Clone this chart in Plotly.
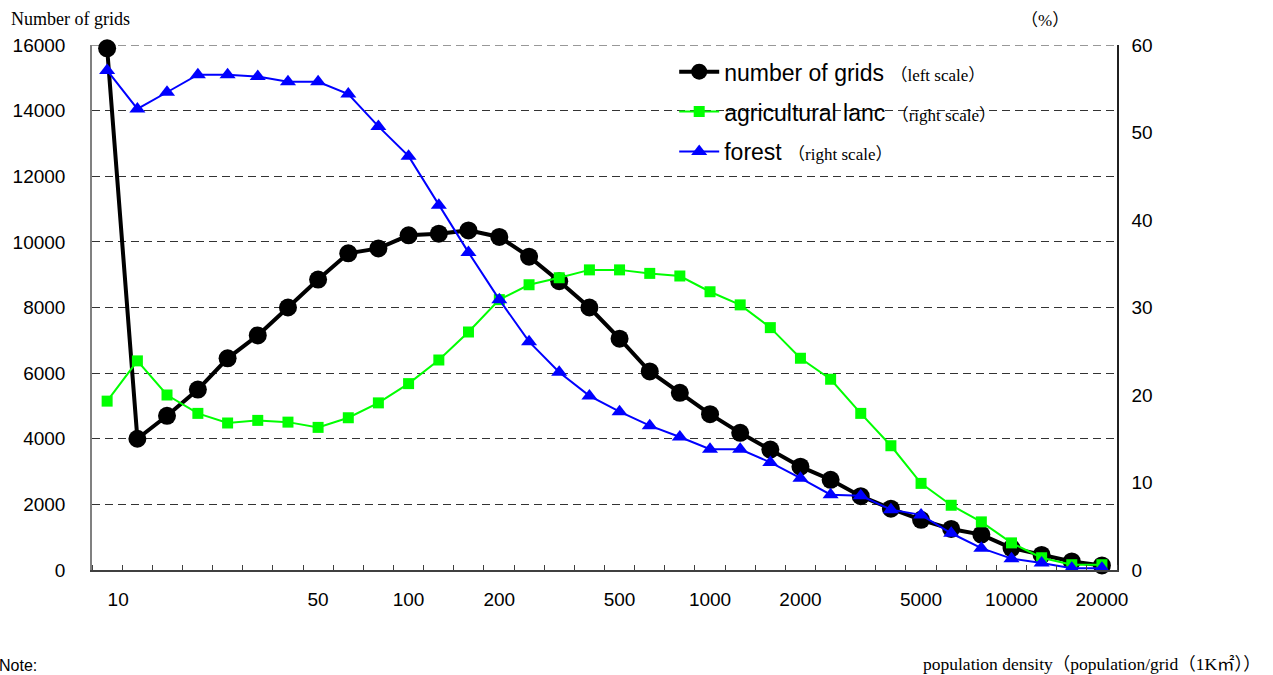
import math
import plotly.graph_objects as go

# population density classes (category values, log-spaced bins)
categories = [10, 12.6, 15.8, 20, 25.1, 31.6, 39.8, 50.1, 63.1, 79.4,
              100, 126, 158, 200, 251, 316, 398, 501, 631, 794,
              1000, 1259, 1585, 1995, 2512, 3162, 3981, 5012, 6310, 7943,
              10000, 12589, 15849, 19953]

number_of_grids = [15900, 4000, 4700, 5500, 6450, 7150, 8000, 8850, 9650, 9800,
                   10200, 10250, 10350, 10150, 9550, 8800, 8000, 7050, 6050, 5400,
                   4750, 4180, 3670, 3150, 2750, 2250, 1870, 1530, 1250, 1080,
                   670, 460, 260, 140]

agricultural_land = [19.3, 23.9, 20.0, 17.9, 16.8, 17.1, 16.9, 16.3, 17.4, 19.1,
                     21.3, 24.0, 27.2, 30.9, 32.6, 33.4, 34.3, 34.3, 33.9, 33.6,
                     31.8, 30.3, 27.7, 24.2, 21.8, 17.9, 14.2, 9.9, 7.4, 5.5,
                     3.1, 1.4, 0.6, 0.6]

forest = [57.1, 52.7, 54.6, 56.6, 56.6, 56.4, 55.8, 55.8, 54.4, 50.7,
          47.3, 41.7, 36.3, 30.9, 26.1, 22.6, 19.9, 18.1, 16.5, 15.2,
          13.8, 13.8, 12.3, 10.5, 8.6, 8.5, 6.9, 6.3, 4.2, 2.5,
          1.3, 0.8, 0.2, 0.2]

x_tick_labels = ["10", "50", "100", "200", "500", "1000", "2000", "5000", "10000", "20000"]
x_tick_vals = [10.88, 50.1, 100, 200, 501, 1000, 1995, 5012, 10000, 19953]

left_ticks = [0, 2000, 4000, 6000, 8000, 10000, 12000, 14000, 16000]
left_tick_labels = ["0", "2000", "4000", "6000", "8000", "10000", "12000", "14000", "16000"]
right_ticks = [0, 10, 20, 30, 40, 50, 60]
right_tick_labels = ["0", "10", "20", "30", "40", "50", "60"]

SERIF = "Liberation Serif, Noto Sans CJK JP, serif"
SANS = "Liberation Sans, Arial, sans-serif"

def scale_note(txt):
    return ('<span style="font-family:Liberation Serif, Noto Sans CJK JP;font-size:17px">'
            + txt + '</span>')

# category boundaries for the small tick marks
lc = [math.log10(c) for c in categories]
bounds = [10 ** (lc[0] - (lc[1] - lc[0]) / 2)]
for i in range(len(lc) - 1):
    bounds.append(10 ** ((lc[i] + lc[i + 1]) / 2))
bounds.append(10 ** (lc[-1] + (lc[-1] - lc[-2]) / 2))

fig = go.Figure()
fig.add_trace(go.Scatter(
    x=categories, y=number_of_grids, yaxis="y", mode="lines+markers",
    name="number of grids " + scale_note("（left scale）"),
    line=dict(color="black", width=4),
    marker=dict(symbol="circle", size=18, color="black"),
    legendgroup="a", cliponaxis=False))
fig.add_trace(go.Scatter(
    x=categories, y=agricultural_land, yaxis="y2", mode="lines+markers",
    name="agricultural lanc " + scale_note("（right scale）"),
    line=dict(color="#00ff00", width=2),
    marker=dict(symbol="square", size=11, color="#00ff00"),
    legendgroup="b", cliponaxis=False))
fig.add_trace(go.Scatter(
    x=categories, y=forest, yaxis="y2", mode="lines+markers",
    name="forest " + scale_note("（right scale）"),
    line=dict(color="#0000ff", width=2),
    marker=dict(symbol="triangle-up", size=14, color="#0000ff"),
    legendgroup="c", cliponaxis=False))

fig.update_layout(
    width=1273, height=675, autosize=False,
    margin=dict(l=92, r=156, t=45, b=105),
    paper_bgcolor="white", plot_bgcolor="white",
    font=dict(family=SANS, size=19, color="black"),
    xaxis=dict(
        type="log",
        range=[math.log10(bounds[0]), math.log10(bounds[-1])],
        tickmode="array", tickvals=x_tick_vals, ticktext=x_tick_labels,
        ticks="", showgrid=False, zeroline=False,
        showline=True, linecolor="#404040", linewidth=1.5,
        ticklabelstandoff=11,
        tickfont=dict(family=SANS, size=19, color="black"),
        minor=dict(tickmode="array", tickvals=bounds, ticks="inside",
                   ticklen=5, tickcolor="#404040", tickwidth=1, showgrid=False),
    ),
    yaxis=dict(
        range=[0, 16000], tickmode="array", tickvals=left_ticks,
        ticktext=left_tick_labels,
        showgrid=True, gridcolor="#333333", gridwidth=1, griddash="8px,5px",
        zeroline=False, showline=True, linecolor="#808080", linewidth=1.5,
        ticks="", ticklabelstandoff=21,
        tickfont=dict(family=SANS, size=19, color="black"),
    ),
    yaxis2=dict(
        range=[0, 60], tickmode="array", tickvals=right_ticks,
        ticktext=right_tick_labels,
        overlaying="y", side="right", showgrid=False, zeroline=False,
        showline=True, linecolor="#202020", linewidth=1.5,
        ticks="", ticklabelstandoff=9,
        tickfont=dict(family=SANS, size=19, color="black"),
    ),
    shapes=[
        dict(type="line", xref="paper", yref="y", x0=0, x1=1,
             y0=left_ticks[-1], y1=left_ticks[-1], layer="below",
             line=dict(color="#333333", width=1, dash="8px,5px")),
    ],
    showlegend=True,
    legend=dict(
        x=0.568, y=0.99, xanchor="left", yanchor="top",
        bgcolor="rgba(0,0,0,0)", borderwidth=0,
        font=dict(family=SANS, size=23, color="black"),
        tracegroupgap=7, itemwidth=40,
    ),
    annotations=[
        dict(text="Number of grids", xref="paper", yref="paper",
             x=-0.0810, y=1.0, xanchor="left", yanchor="bottom", yshift=14,
             showarrow=False, font=dict(family=SERIF, size=18, color="black")),
        dict(text="（%）", xref="paper", yref="paper",
             x=0.930, y=1.0, xanchor="center", yanchor="bottom", yshift=13,
             showarrow=False, font=dict(family=SERIF, size=17, color="black")),
        dict(text="Note:", xref="paper", yref="paper",
             x=-0.093, y=0.0, xanchor="left", yanchor="middle", yshift=-95,
             showarrow=False, font=dict(family=SANS, size=16, color="black")),
        dict(text="population density（population/grid（1K㎡））", xref="paper", yref="paper",
             x=1.0, y=0.0, xanchor="right", yanchor="middle", xshift=146, yshift=-94,
             showarrow=False, font=dict(family=SERIF, size=17.5, color="black")),
    ],
)

fig.write_html("out.html")
